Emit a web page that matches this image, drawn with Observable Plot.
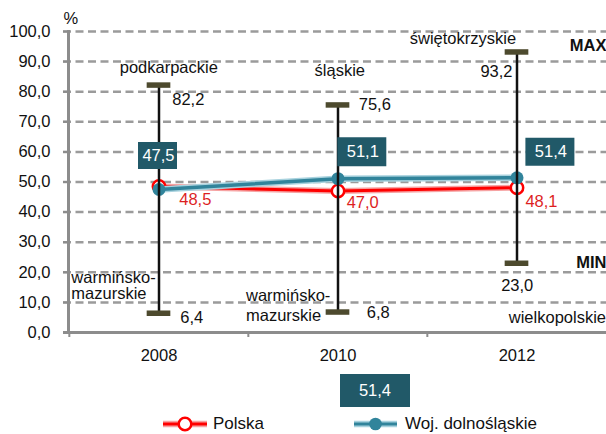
<!DOCTYPE html>
<html><head><meta charset="utf-8">
<script src="https://cdn.jsdelivr.net/npm/d3@7"></script>
<script src="https://cdn.jsdelivr.net/npm/@observablehq/plot@0.6"></script>
<style>
body{margin:0;background:#fff;font-family:"Liberation Sans",Arial,sans-serif;}
#wrap{position:relative;width:606px;height:434px;overflow:hidden;}
#wrap svg{display:block;}
.lg{position:absolute;font-size:17px;color:#111;line-height:20px;}
.box{position:absolute;background:#215968;color:#fff;font-size:16.5px;display:flex;align-items:center;justify-content:center;}
</style></head><body><div id="wrap"></div>
<script>
// ---- data ----
const years = ["2008", "2010", "2012"];
const polska = [48.5, 47.0, 48.1];
const dolnoslaskie = [47.5, 51.1, 51.4];
const maxValues = [82.2, 75.6, 93.2];
const maxRegions = ["podkarpackie", "śląskie", "świętokrzyskie"];
const minValues = [6.4, 6.8, 23.0];
const minRegions = ["warmińsko-\nmazurskie", "warmińsko-\nmazurskie", "wielkopolskie"];
const yTicks = [0, 10, 20, 30, 40, 50, 60, 70, 80, 90, 100];
const seriesNames = ["Polska", "Woj. dolnośląskie"];
const legendBoxValue = 51.4;
const unitLabel = "%";
const maxLabel = "MAX";
const minLabel = "MIN";

// ---- layout ----
const W = 606, H = 372, ML = 68, MT = 31, Y0 = 332;
const BW = (W - ML) / 3;
const FONT = "'Liberation Sans', Arial, sans-serif";
const RED = "#ff0000", TEAL = "#31849b", BOX = "#215968", CAP = "#4d4a2e", AX = "#8c8c8c";
const fmt = v => v.toFixed(1).replace(".", ",");

const rows = years.map((year, i) => ({
  year, polska: polska[i], dolny: dolnoslaskie[i],
  max: maxValues[i], min: minValues[i],
  maxRegion: maxRegions[i], minRegion: minRegions[i]
}));

const boxLayout = [
  {dx: -1.5, dy: -34, w: 39, h: 27},
  {dx: 23.8, dy: -27, w: 49, h: 29},
  {dx: 32.9, dy: -26, w: 49, h: 28}
];
const polskaLabelLayout = [{dx: 36.3, dy: 13.2}, {dx: 24.7, dy: 11.2}, {dx: 24.5, dy: 13.6}];
const maxValueLayout = [{dx: 29.3, dy: 14.6}, {dx: 36.8, dy: -0.6}, {dx: -20.5, dy: 20.2}];
const maxRegionLayout = [{dx: 9.8, dy: -17}, {dx: 1.8, dy: -34.7}, {dx: -54.1, dy: -13}];
const minValueLayout = [{dx: 32.7, dy: 4.8}, {dx: 40.2, dy: 1}, {dx: 0.2, dy: 22.2}];
const minRegionLayout = [
  {dx: -87.7, dy: -27.7, anchor: "start", lh: 1},
  {dx: -92, dy: -7.2, anchor: "start", lh: 1.17},
  {dx: 89, dy: 54, anchor: "end", lh: 1}
];

const rectSymbol = (w, h) => ({
  draw(ctx) {
    ctx.moveTo(-w / 2, -h / 2); ctx.lineTo(w / 2, -h / 2);
    ctx.lineTo(w / 2, h / 2); ctx.lineTo(-w / 2, h / 2); ctx.closePath();
  }
});

const perRow = [];
rows.forEach((r, i) => {
  const b = boxLayout[i];
  perRow.push(
    Plot.dot([r], {x: "year", y: "dolny", dx: b.dx, dy: b.dy, symbol: rectSymbol(b.w, b.h), fill: BOX, stroke: "none"}),
    Plot.text([r], {x: "year", y: "dolny", dx: b.dx + 1, dy: b.dy, text: d => fmt(d.dolny), fill: "white", fontSize: 16.5}),
    Plot.text([r], {x: "year", y: "polska", ...polskaLabelLayout[i], text: d => fmt(d.polska), fill: "#dd1f1f", fontSize: 16.5}),
    Plot.text([r], {x: "year", y: "max", ...maxValueLayout[i], text: d => fmt(d.max), fill: "#111", fontSize: 16.5}),
    Plot.text([r], {x: "year", y: "max", ...maxRegionLayout[i], text: "maxRegion", fill: "#111", fontSize: 16.5}),
    Plot.text([r], {x: "year", y: "min", ...minValueLayout[i], text: d => fmt(d.min), fill: "#111", fontSize: 16.5}),
    Plot.text([r], {x: "year", y: "min", dx: minRegionLayout[i].dx, dy: minRegionLayout[i].dy,
      textAnchor: minRegionLayout[i].anchor, lineHeight: minRegionLayout[i].lh, text: "minRegion", fill: "#111", fontSize: 16.5})
  );
});

const chart = Plot.plot({
  width: W, height: H,
  marginLeft: ML, marginRight: 0, marginTop: MT, marginBottom: H - Y0,
  style: {fontFamily: FONT, fontSize: "16.5px", color: "#111", background: "white", overflow: "visible"},
  x: {type: "band", domain: years, padding: 0},
  y: {domain: [0, 100]},
  marks: [
    Plot.gridY(yTicks.filter(t => t > 0), {stroke: "#9b9b9b", strokeOpacity: 1, strokeWidth: 2.5, strokeDasharray: "8,4.5", insetLeft: -5}),
    Plot.axisY(yTicks, {tickSize: 5, tickPadding: 13, tickFormat: fmt, color: "#111", stroke: AX, strokeWidth: 2, label: null, fontSize: 16.5}),
    Plot.axisX({tickSize: 5, fill: "none", stroke: AX, strokeWidth: 2, dx: -BW / 2, label: null}),
    Plot.axisX({tickSize: 0, tickPadding: 17, color: "#111", label: null, fontSize: 16.5}),
    Plot.ruleY([0], {stroke: AX, strokeWidth: 3, insetLeft: -5}),
    Plot.frame({anchor: "left", stroke: AX, strokeWidth: 3}),
    Plot.text([unitLabel], {frameAnchor: "top-left", text: d => d, dx: -5, dy: -13, lineAnchor: "middle", textAnchor: "start", fontSize: 16.5, fill: "#111"}),
    Plot.text([maxLabel], {frameAnchor: "top-right", text: d => d, dx: 0, dy: 14, lineAnchor: "middle", textAnchor: "end", fontSize: 16.5, fontWeight: "bold", fill: "#111"}),
    Plot.text([minLabel], {frameAnchor: "bottom-right", text: d => d, dx: 0, dy: -70, lineAnchor: "middle", textAnchor: "end", fontSize: 16.5, fontWeight: "bold", fill: "#111"}),
    // Polska
    Plot.line(rows, {x: "year", y: "polska", stroke: "#f6a3a3", strokeWidth: 6}),
    Plot.line(rows, {x: "year", y: "polska", stroke: RED, strokeWidth: 3}),
    Plot.dot(rows, {x: "year", y: "polska", r: 6.2, fill: "white", stroke: RED, strokeWidth: 2.5}),
    // Woj. dolnośląskie
    Plot.line(rows, {x: "year", y: "dolny", stroke: "#a8d2de", strokeWidth: 6.5}),
    Plot.line(rows, {x: "year", y: "dolny", stroke: TEAL, strokeWidth: 3.5}),
    Plot.dot(rows, {x: "year", y: "dolny", r: 6.5, fill: TEAL, stroke: "none"}),
    // min-max bars
    Plot.ruleX(rows, {x: "year", y1: "min", y2: "max", stroke: "#111", strokeWidth: 2.5}),
    Plot.tickY(rows, {x: "year", y: "max", stroke: CAP, strokeWidth: 5.5, insetLeft: (BW - 24) / 2, insetRight: (BW - 24) / 2}),
    Plot.tickY(rows, {x: "year", y: "min", stroke: CAP, strokeWidth: 5.5, insetLeft: (BW - 24) / 2, insetRight: (BW - 24) / 2}),
    ...perRow
  ]
});

const wrap = document.getElementById("wrap");
wrap.appendChild(chart);

// ---- legend (below the SVG) ----
const box = document.createElement("div");
box.className = "box";
Object.assign(box.style, {left: "340px", top: "374px", width: "70px", height: "33px"});
box.textContent = fmt(legendBoxValue);
wrap.appendChild(box);

function legendItem(x0, x1, textX, name, dotFill, dotStroke, color, halo) {
  const ns = "http://www.w3.org/2000/svg";
  const s = document.createElementNS(ns, "svg");
  s.setAttribute("width", x1 - x0 + 4); s.setAttribute("height", 20);
  Object.assign(s.style, {position: "absolute", left: (x0 - 2) + "px", top: "414px"});
  const cx = (x1 - x0) / 2 + 2;
  s.innerHTML =
    `<line x1="2" x2="${x1 - x0 + 2}" y1="10" y2="10" stroke="${halo}" stroke-width="6.5"/>` +
    `<line x1="2" x2="${x1 - x0 + 2}" y1="10" y2="10" stroke="${color}" stroke-width="3.2"/>` +
    `<circle cx="${cx}" cy="10" r="6.3" fill="${dotFill}" stroke="${dotStroke}" stroke-width="2.5"/>`;
  wrap.appendChild(s);
  const t = document.createElement("div");
  t.className = "lg";
  Object.assign(t.style, {left: textX + "px", top: "414px"});
  t.textContent = name;
  wrap.appendChild(t);
}
legendItem(163, 207, 213, seriesNames[0], "white", RED, RED, "#f6a3a3");
legendItem(354, 397, 405, seriesNames[1], TEAL, "none", TEAL, "#a8d2de");
</script>
</body></html>
